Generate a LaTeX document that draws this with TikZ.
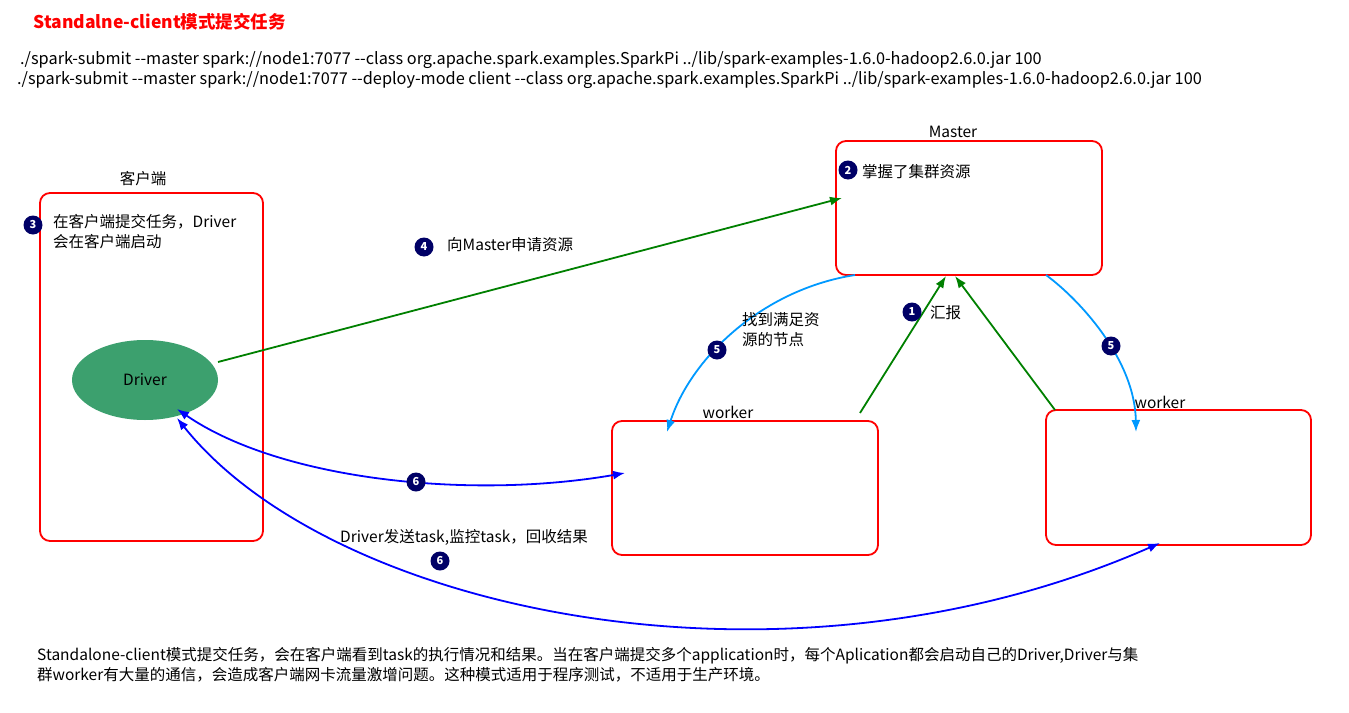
\documentclass[tikz,border=0pt]{standalone}
\usepackage{fontspec}
\setmainfont{Noto Sans CJK SC}
\usetikzlibrary{arrows.meta,shapes.geometric}
\definecolor{drvgreen}{RGB}{60,160,110}
\begin{document}
\begin{tikzpicture}[x=1pt,y=-1pt,
  box/.style={draw=red,line width=1.8pt,rounded corners=10pt},
  num/.style={circle,fill=blue!40!black,text=white,inner sep=0pt,minimum size=19pt,font=\fontsize{11}{11}\selectfont\bfseries},
  txt/.style={anchor=west,inner sep=0pt,font=\fontsize{15.5}{20}\selectfont},
  cmd/.style={anchor=west,inner sep=0pt,font=\fontsize{16.3}{20}\selectfont},
  garr/.style={draw=green!50!black,line width=1.8pt,-{Latex[length=12pt,width=9pt]}},
  larr/.style={draw=blue!40!cyan,line width=1.8pt,-{Latex[length=12pt,width=9pt]}},
  barr/.style={draw=blue,line width=1.8pt,{Latex[length=12pt,width=9pt]}-{Latex[length=12pt,width=9pt]}}]
\useasboundingbox (0,0) rectangle (1349,712);
\node[anchor=west,text=red,font=\fontsize{17.5}{20}\selectfont\bfseries] (title) at (30,22) {Standalne-client模式提交任务};
\node[cmd] (c1) at (20,60) {./spark-submit {-}{-}master spark://node1:7077 {-}{-}class org.apache.spark.examples.SparkPi ../lib/spark-examples-1.6.0-hadoop2.6.0.jar 100};
\node[cmd] (c2) at (17,80) {./spark-submit {-}{-}master spark://node1:7077 {-}{-}deploy-mode client {-}{-}class org.apache.spark.examples.SparkPi ../lib/spark-examples-1.6.0-hadoop2.6.0.jar 100};
% boxes
\draw[box] (40,193) rectangle (263,541);
\node[txt,anchor=center] (lc) at (143,179) {客户端};
\node[num] (n3) at (33,225) {3};
\node[txt,anchor=north west,align=left] (t3) at (53,214) {在客户端提交任务，Driver\\会在客户端启动};
\node[ellipse,fill=drvgreen,minimum width=146pt,minimum height=80pt,inner sep=0pt,font=\fontsize{15.5}{20}\selectfont] (drv) at (145,380) {Driver};
\draw[box] (836,141) rectangle (1102,275);
\node[txt,anchor=center] (lm) at (953,132) {Master};
\node[num] (n2) at (848,170) {2};
\node[txt] (t2) at (862,172) {掌握了集群资源};
\draw[box] (612,421) rectangle (878,555);
\node[txt,anchor=center] (lw1) at (728,412) {worker};
\draw[box] (1046,410) rectangle (1311,545);
\node[txt,anchor=center] (lw2) at (1160,402) {worker};
% coordinates
\coordinate (dA) at (218,362);
\coordinate (mA) at (842,198);
\coordinate (w1t) at (860,413);
\coordinate (m1) at (946,276);
\coordinate (w2t) at (1055,410);
\coordinate (m2) at (955,276);
\coordinate (mL) at (855,275);
\coordinate (w1L) at (667,432);
\coordinate (mR) at (1046,275);
\coordinate (w2L) at (1136,432);
\coordinate (d1) at (177,409);
\coordinate (w1e) at (625,473);
\coordinate (d2) at (177,418);
\coordinate (w2e) at (1160,543);
% arrows
\draw[garr] (dA) -- (mA);
\node[num] (n4) at (424,247) {4};
\node[txt] (t4) at (447,245) {向Master申请资源};
\draw[garr] (w1t) -- (m1);
\draw[garr] (w2t) -- (m2);
\node[num] (n1) at (912,312) {1};
\node[txt] (t1) at (930,313) {汇报};
\draw[larr] (mL) .. controls (760,290) and (690,360) .. (w1L);
\node[num] (n5a) at (717,350) {5};
\node[txt,anchor=north west,align=left] (t5) at (742,312) {找到满足资\\源的节点};
\draw[larr] (mR) .. controls (1080,300) and (1135,360) .. (w2L);
\node[num] (n5b) at (1111,346) {5};
\draw[barr] (d1) .. controls (280,480) and (470,500) .. (w1e);
\node[num] (n6a) at (416,482) {6};
\draw[barr] (d2) .. controls (330,610) and (780,710) .. (w2e);
\node[num] (n6b) at (440,561) {6};
\node[txt] (t6) at (340,537) {Driver发送task,监控task，回收结果};
\node[txt,anchor=north west,align=left] (bt) at (37,647) {Standalone-client模式提交任务，会在客户端看到task的执行情况和结果。当在客户端提交多个application时，每个Aplication都会启动自己的Driver,Driver与集\\群worker有大量的通信，会造成客户端网卡流量激增问题。这种模式适用于程序测试，不适用于生产环境。};
\end{tikzpicture}
\end{document}
